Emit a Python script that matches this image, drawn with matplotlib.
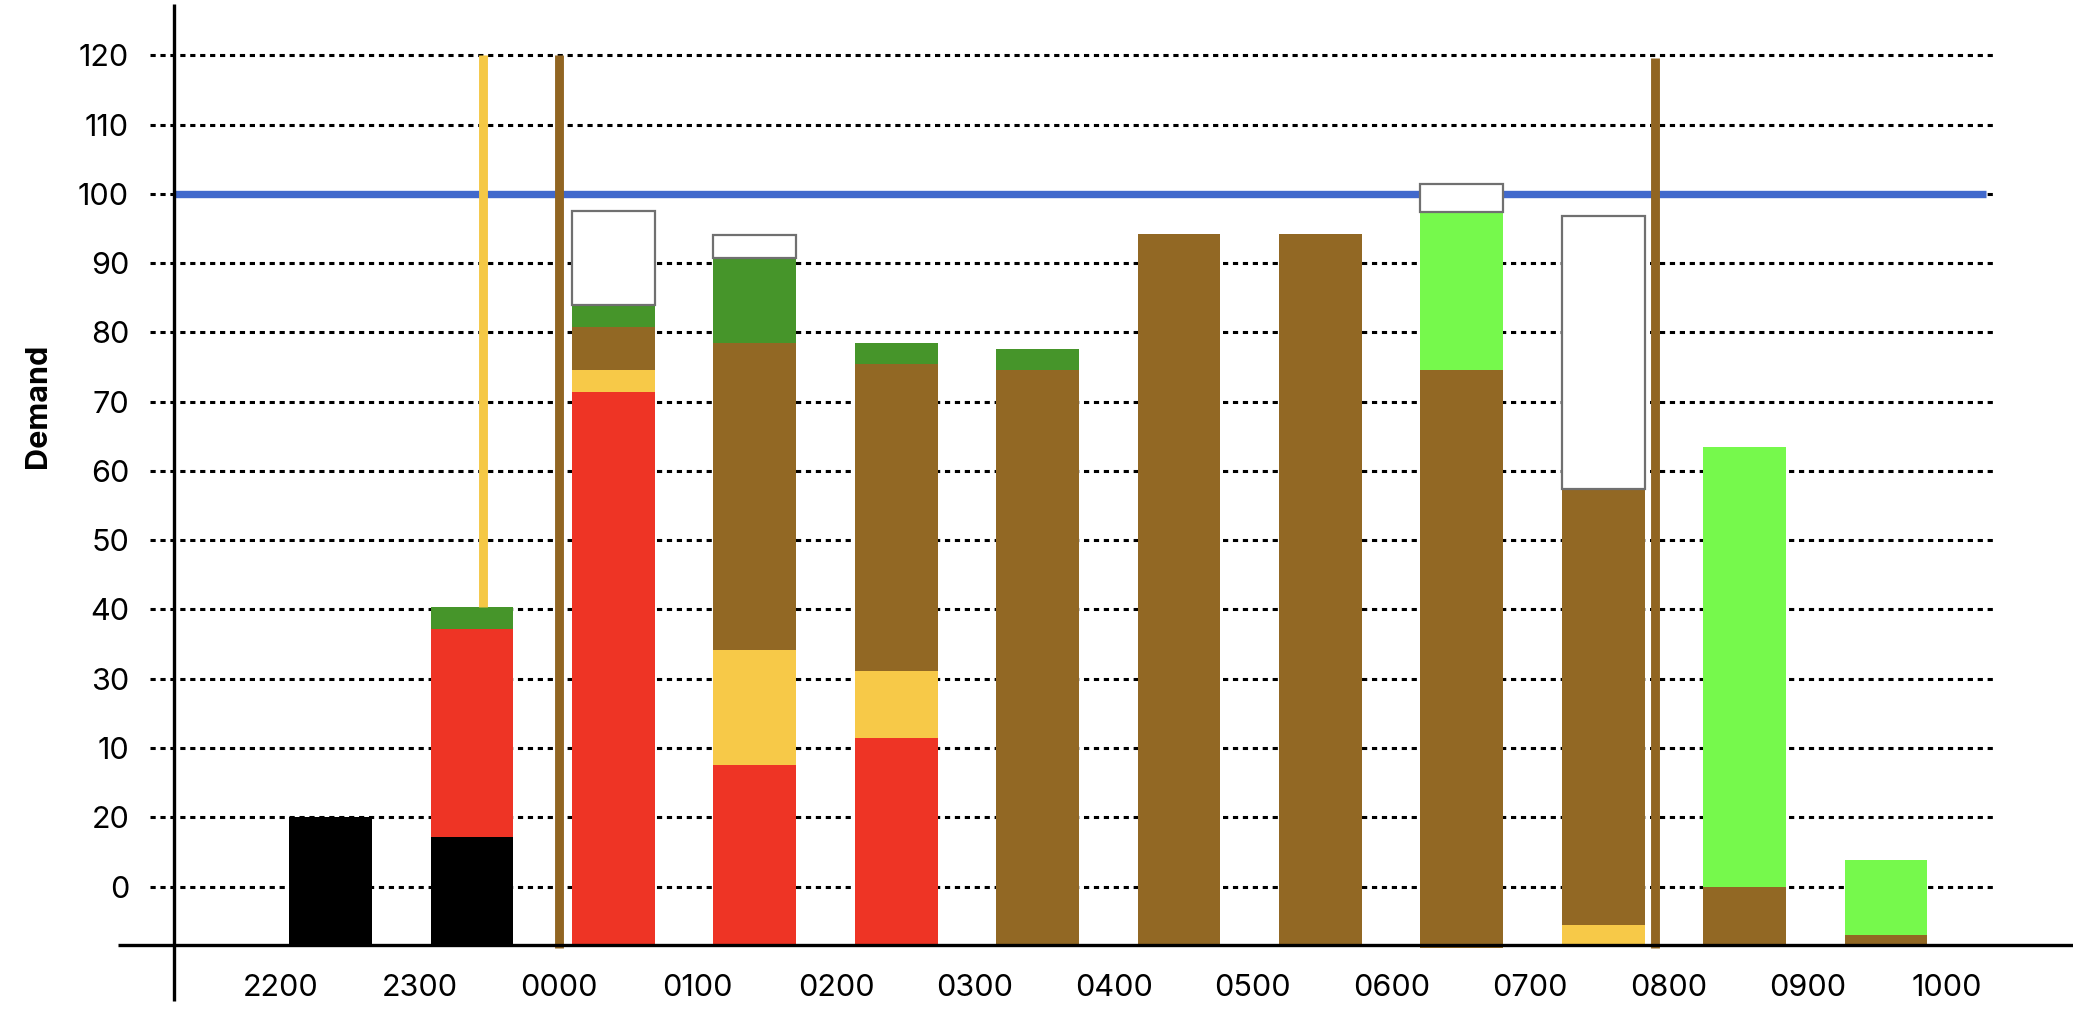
import numpy as np
import matplotlib
matplotlib.use('Agg')
import matplotlib.pyplot as plt

plt.rcParams['font.family'] = ['Inter', 'DejaVu Sans']

# Franjas horarias (etiquetas del eje x) y barras apiladas por franja
horas = ['2200', '2300', '0000', '0100', '0200', '0300', '0400',
         '0500', '0600', '0700', '0800', '0900', '1000']
n_barras = 12

# Etiquetas del eje y tal como aparecen (en las posiciones 0, 10, ..., 120)
etiquetas_y = ['0', '20', '10', '30', '40', '50', '60', '70', '80',
               '90', '100', '110', '120']

# Base de cada barra (la linea del eje queda en -8.4)
base = [-8.4, -8.4, -8.4, -8.4, -8.4, -8.4, -8.4, -8.4, -8.9, -8.4, -8.4, -8.4]

# Alturas de cada segmento, de abajo hacia arriba
negro = [18.4, 15.6, 0, 0, 0, 0, 0, 0, 0, 0, 0, 0]
rojo = [0, 30.0, 79.8, 25.9, 29.9, 0, 0, 0, 0, 0, 0, 0]
amarillo = [0, 0, 3.15, 16.65, 9.6, 0, 0, 0, 0, 2.9, 0, 0]
marron = [0, 0, 6.2, 44.3, 44.4, 83.0, 102.6, 102.6, 83.45, 62.9, 8.4, 1.45]
verde = [0, 3.15, 3.15, 12.25, 2.95, 3.0, 0, 0, 0, 0, 0, 0]
verde_claro = [0, 0, 0, 0, 0, 0, 0, 0, 22.85, 0, 63.5, 10.85]
vacio = [0, 0, 13.65, 3.4, 0, 0, 0, 0, 4.0, 39.4, 0, 0]

capacidad = 100

# Lineas verticales: (posicion x en franjas, y inferior, y superior, color)
marcas_x = [1.372, 1.904, 9.657]
marcas_y0 = [40.35, -8.9, -8.9]
marcas_y1 = [120, 120, 119.6]
marcas_color = ['#F5C845', '#916522', '#916522']

fig = plt.figure(figsize=(20.73, 10.15), dpi=100)
ax = fig.add_axes([150 / 2073, 70 / 1015, 1845 / 2073, 941 / 1015])

ax.set_xlim(-0.985, 12.063)
ax.set_ylim(-8.43, 127.4)

# Rejilla punteada
for yv in range(0, 121, 10):
    ax.plot([-0.985, 12.063], [yv, yv], color='black', lw=2.2,
            dashes=(1.7, 1.55), zorder=1, clip_on=False)

# Linea de capacidad
ax.plot([-0.815, 12.0], [capacidad, capacidad], color='#4169CC', lw=5.3,
        solid_capstyle='butt', zorder=2)

x = np.arange(n_barras)
ancho = 0.585
fondo = np.array(base, dtype=float)
series = [
    (negro, 'black', None),
    (rojo, '#EE3425', None),
    (amarillo, '#F7C948', None),
    (marron, '#926824', None),
    (verde, '#46952A', None),
    (verde_claro, '#76F94C', None),
    (vacio, 'white', '#707070'),
]
for valores, color, borde in series:
    valores = np.array(valores, dtype=float)
    mask = valores > 0
    if borde is None:
        ax.bar(x[mask], valores[mask], bottom=fondo[mask], width=ancho,
               align='edge', color=color, linewidth=0, zorder=3, clip_on=False)
    else:
        ax.bar(x[mask], valores[mask], bottom=fondo[mask], width=ancho,
               align='edge', facecolor=color, edgecolor=borde, linewidth=1.6,
               zorder=3, clip_on=False)
    fondo = fondo + valores

for xm, y0, y1, c in zip(marcas_x, marcas_y0, marcas_y1, marcas_color):
    ax.plot([xm, xm], [y0, y1], color=c, lw=6.4, solid_capstyle='butt',
            zorder=4, clip_on=False)

# Ejes dibujados a mano (se extienden fuera del area)
ax.plot([-1.21, 12.7], [-8.43, -8.43], color='black', lw=2.4, zorder=5,
        clip_on=False, solid_capstyle='butt')
ax.plot([-0.815, -0.815], [-16.5, 127.4], color='black', lw=2.4, zorder=5,
        clip_on=False, solid_capstyle='butt')

for s in ax.spines.values():
    s.set_visible(False)

ax.set_yticks(range(0, 121, 10))
ax.set_yticklabels(etiquetas_y)
ax.set_xticks(np.linspace(-0.059, 11.72, len(horas)))
ax.set_xticklabels(horas)
ax.tick_params(axis='y', length=0, pad=15, labelsize=22)
ax.tick_params(axis='x', length=0, pad=21, labelsize=22)

fig.text(38 / 2073, 1 - 406 / 1015, 'Demand', rotation=90, ha='center',
         va='center', fontsize=22, fontweight='bold')

fig.savefig('out.png', dpi=100)
